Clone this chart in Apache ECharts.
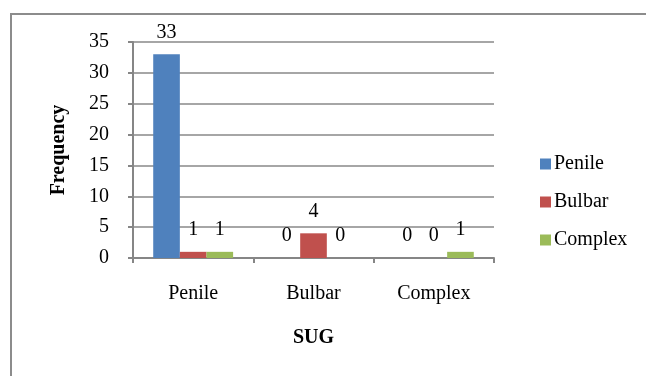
<!DOCTYPE html>
<html>
<head>
<meta charset="utf-8">
<script src="https://cdn.jsdelivr.net/npm/echarts@6/dist/echarts.min.js"></script>
<style>
html,body{margin:0;padding:0;background:#fff;}
#chart{width:646px;height:376px;}
</style>
</head>
<body>
<div id="chart"></div>
<script>
const categories = ['Penile', 'Bulbar', 'Complex'];
const seriesNames = ['Penile', 'Bulbar', 'Complex'];
const penileValues = [33, 0, 0];
const bulbarValues = [1, 4, 0];
const complexValues = [1, 0, 1];
const yTicks = [0, 5, 10, 15, 20, 25, 30, 35];
const colors = ['#4F81BD', '#C0504D', '#9BBB59'];

const font = "'Liberation Serif', 'Times New Roman', serif";
const chart = echarts.init(document.getElementById('chart'));
const allValues = [penileValues, bulbarValues, complexValues];

chart.setOption({
  animation: false,
  textStyle: { fontFamily: font },
  graphic: [{
    type: 'rect',
    shape: { x: 11, y: 14, width: 700, height: 500 },
    style: { fill: 'none', stroke: '#8c8c8c', lineWidth: 2 },
    silent: true
  }],
  grid: { left: 133, right: 152, top: 42, bottom: 118 },
  legend: {
    orient: 'vertical',
    left: 535,
    top: 149,
    itemWidth: 11,
    itemHeight: 11,
    itemGap: 18,
    icon: 'rect',
    textStyle: { fontFamily: font, fontSize: 20, color: '#000', padding: [0, 0, 0, -2] },
    data: seriesNames
  },
  xAxis: {
    type: 'category',
    data: categories,
    name: 'SUG',
    nameLocation: 'middle',
    nameGap: 70,
    nameTextStyle: { fontFamily: font, fontSize: 20, fontWeight: 'bold', color: '#000' },
    axisLine: { lineStyle: { color: '#868686', width: 2 } },
    axisTick: { show: true, length: 5, lineStyle: { color: '#868686', width: 2 } },
    axisLabel: { fontFamily: font, fontSize: 20, color: '#000', margin: 26 }
  },
  yAxis: {
    type: 'value',
    min: 0,
    max: 35,
    interval: 5,
    name: 'Frequency',
    nameLocation: 'middle',
    nameGap: 64,
    nameRotate: 90,
    nameTextStyle: { fontFamily: font, fontSize: 20, fontWeight: 'bold', color: '#000' },
    axisLine: { show: true, lineStyle: { color: '#868686', width: 2 } },
    axisTick: { show: true, length: 5, lineStyle: { color: '#868686', width: 2 } },
    axisLabel: {
      fontFamily: font, fontSize: 20, color: '#000', margin: 24,
      formatter: v => (yTicks.includes(v) ? String(v) : '')
    },
    splitLine: { lineStyle: { color: '#a6a6a6', width: 2 } }
  },
  series: seriesNames.map((name, i) => ({
    name: name,
    type: 'bar',
    data: allValues[i],
    barGap: '0%',
    barCategoryGap: '33.6%',
    itemStyle: { color: colors[i] },
    label: {
      show: true,
      position: 'top',
      distance: 12,
      fontFamily: font,
      fontSize: 20,
      color: '#000'
    }
  }))
});
</script>
</body>
</html>
